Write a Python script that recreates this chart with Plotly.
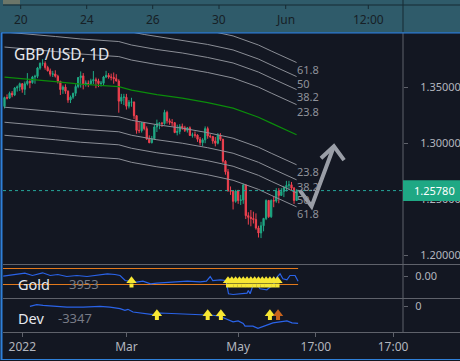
import plotly.graph_objects as go

# ---------------- data ----------------
opens = [1.3328, 1.3407, 1.3402, 1.3446, 1.3430, 1.3492, 1.3502, 1.3530, 1.3480, 1.3530,
         1.3552, 1.3540, 1.3590, 1.3596, 1.3670, 1.3712, 1.3712, 1.3675, 1.3645, 1.3615,
         1.3617, 1.3597, 1.3552, 1.3478, 1.3500, 1.3464, 1.3385, 1.3410, 1.3445, 1.3505,
         1.3585, 1.3600, 1.3528, 1.3535, 1.3532, 1.3556, 1.3566, 1.3556, 1.3532, 1.3535,
         1.3590, 1.3605, 1.3590, 1.3587, 1.3575, 1.3555, 1.3375, 1.3410, 1.3410, 1.3330,
         1.3365, 1.3368, 1.3245, 1.3115, 1.3112, 1.3183, 1.3130, 1.3037, 1.3005, 1.3040,
         1.3145, 1.3175, 1.3180, 1.3175, 1.3275, 1.3200, 1.3185, 1.3183, 1.3095, 1.3105,
         1.3150, 1.3137, 1.3115, 1.3137, 1.3070, 1.3075, 1.3072, 1.3035, 1.3005, 1.3030,
         1.3130, 1.3065, 1.3060, 1.3020, 1.3000, 1.3073, 1.3035, 1.2840, 1.2745, 1.2575,
         1.2572, 1.2482, 1.2575, 1.2490, 1.2495, 1.2628, 1.2355, 1.2340, 1.2330, 1.2320,
         1.2245, 1.2200, 1.2265, 1.2330, 1.2490, 1.2345, 1.2490, 1.2485, 1.2575, 1.2535,
         1.2570, 1.2605, 1.2625, 1.2630, 1.2600, 1.2490]
highs = [1.3415, 1.3435, 1.3460, 1.3465, 1.3500, 1.3515, 1.3540, 1.3535, 1.3550, 1.3625,
         1.3560, 1.3600, 1.3610, 1.3680, 1.3720, 1.3749, 1.3730, 1.3690, 1.3665, 1.3645,
         1.3650, 1.3610, 1.3555, 1.3515, 1.3525, 1.3470, 1.3425, 1.3450, 1.3525, 1.3590,
         1.3640, 1.3625, 1.3560, 1.3560, 1.3575, 1.3643, 1.3585, 1.3575, 1.3555, 1.3600,
         1.3645, 1.3625, 1.3620, 1.3630, 1.3615, 1.3570, 1.3440, 1.3440, 1.3440, 1.3385,
         1.3405, 1.3370, 1.3250, 1.3190, 1.3185, 1.3190, 1.3150, 1.3070, 1.3065, 1.3165,
         1.3210, 1.3185, 1.3190, 1.3298, 1.3290, 1.3220, 1.3215, 1.3188, 1.3165, 1.3170,
         1.3175, 1.3155, 1.3145, 1.3150, 1.3095, 1.3105, 1.3080, 1.3055, 1.3045, 1.3150,
         1.3148, 1.3080, 1.3065, 1.3055, 1.3090, 1.3090, 1.3040, 1.2850, 1.2770, 1.2615,
         1.2580, 1.2585, 1.2585, 1.2540, 1.2640, 1.2635, 1.2385, 1.2405, 1.2390, 1.2375,
         1.2265, 1.2300, 1.2335, 1.2500, 1.2495, 1.2500, 1.2525, 1.2600, 1.2600, 1.2600,
         1.2620, 1.2665, 1.2665, 1.2655, 1.2610, 1.2590]
lows = [1.3310, 1.3390, 1.3395, 1.3410, 1.3420, 1.3460, 1.3465, 1.3450, 1.3430, 1.3515,
        1.3490, 1.3530, 1.3530, 1.3580, 1.3655, 1.3690, 1.3655, 1.3640, 1.3595, 1.3590,
        1.3585, 1.3532, 1.3430, 1.3440, 1.3440, 1.3360, 1.3358, 1.3395, 1.3420, 1.3490,
        1.3495, 1.3480, 1.3505, 1.3500, 1.3520, 1.3528, 1.3490, 1.3500, 1.3505, 1.3510,
        1.3580, 1.3575, 1.3560, 1.3530, 1.3550, 1.3272, 1.3350, 1.3340, 1.3300, 1.3310,
        1.3325, 1.3215, 1.3085, 1.3090, 1.3095, 1.3115, 1.3030, 1.3000, 1.2998, 1.3030,
        1.3100, 1.3125, 1.3145, 1.3165, 1.3175, 1.3165, 1.3150, 1.3090, 1.3070, 1.3080,
        1.3120, 1.3100, 1.3095, 1.3065, 1.3050, 1.3050, 1.3012, 1.2980, 1.2975, 1.3000,
        1.3040, 1.3045, 1.2995, 1.2972, 1.2990, 1.3020, 1.2825, 1.2720, 1.2570, 1.2540,
        1.2410, 1.2470, 1.2460, 1.2450, 1.2460, 1.2325, 1.2275, 1.2260, 1.2285, 1.2230,
        1.2160, 1.2155, 1.2215, 1.2315, 1.2335, 1.2335, 1.2430, 1.2470, 1.2465, 1.2530,
        1.2520, 1.2570, 1.2590, 1.2575, 1.2460, 1.2485]
closes = [1.3407, 1.3402, 1.3446, 1.3430, 1.3492, 1.3502, 1.3530, 1.3480, 1.3530, 1.3552,
          1.3540, 1.3590, 1.3596, 1.3670, 1.3712, 1.3712, 1.3675, 1.3645, 1.3615, 1.3617,
          1.3597, 1.3552, 1.3478, 1.3500, 1.3464, 1.3385, 1.3410, 1.3445, 1.3505, 1.3585,
          1.3600, 1.3528, 1.3535, 1.3532, 1.3556, 1.3566, 1.3556, 1.3532, 1.3535, 1.3590,
          1.3605, 1.3590, 1.3587, 1.3575, 1.3555, 1.3375, 1.3410, 1.3410, 1.3330, 1.3365,
          1.3368, 1.3245, 1.3115, 1.3112, 1.3183, 1.3130, 1.3037, 1.3005, 1.3040, 1.3145,
          1.3175, 1.3180, 1.3175, 1.3275, 1.3200, 1.3185, 1.3183, 1.3095, 1.3105, 1.3150,
          1.3137, 1.3115, 1.3137, 1.3070, 1.3075, 1.3072, 1.3035, 1.3005, 1.3030, 1.3130,
          1.3065, 1.3060, 1.3020, 1.3000, 1.3073, 1.3035, 1.2840, 1.2745, 1.2575, 1.2572,
          1.2482, 1.2575, 1.2490, 1.2495, 1.2628, 1.2355, 1.2340, 1.2330, 1.2320, 1.2245,
          1.2200, 1.2265, 1.2330, 1.2490, 1.2345, 1.2490, 1.2485, 1.2575, 1.2535, 1.2570,
          1.2605, 1.2625, 1.2630, 1.2600, 1.2490, 1.2578]
bars = list(range(len(closes)))

# 200-period moving average (green), read at sparse bars
ma_bars = [0, 10, 20, 30, 40, 45, 50, 55, 60, 70, 80, 90, 100, 105, 110, 115]
ma_vals = [1.3589, 1.3571, 1.3549, 1.3527, 1.3513, 1.3504, 1.3473, 1.3451, 1.3433,
           1.3402, 1.3362, 1.3313, 1.3232, 1.3179, 1.3125, 1.3076]

fib_labels = ["23.8", "38.2", "50", "61.8"]
fib_offsets = [0.0268, 0.0402, 0.0518, 0.0643]

# Gold indicator pane
gold_x = [-0.5, 6, 8, 11, 15, 18, 21, 24.5, 28.5, 32.5, 36.5, 40.5, 43.5, 45.5, 47.5, 49.5,
          52, 54.5, 57.5, 60, 64, 68, 72, 77, 79.5, 81, 82, 85, 87, 87.6, 88.2, 90, 92.5,
          95.5, 96, 96.7, 97.8, 99.4, 100.6, 103.3, 104.5, 105.7, 107.3, 108.5, 109.6,
          111.2, 112.4, 114.4, 115.6]
gold_y = [0.03, 0.27, 0.33, 0.10, 0.37, 0.10, 0.20, 0.0, 0.10, 0.0, 0.17, 0.27, 0.20, 0.10,
          -0.40, -0.50, -0.57, -0.47, -0.73, -0.67, -0.60, -0.57, -0.47, -0.53, -0.47, 0.0,
          -0.40, -0.33, -0.40, -0.90, -1.73, -1.80, -1.73, -1.67, -1.40, -1.73, -0.90, -0.80,
          -1.23, -1.33, -1.07, -0.90, -0.07, 0.27, -0.23, -0.33, 0.10, 0.10, -0.47]
gold_levels = [0.8, -0.8]
gold_arrow_x = [50, 88, 89.5, 91, 92.5, 94, 95.5, 97, 98.5, 100, 101.5, 103, 104.5, 106, 107.5]
gold_arrow_head = -0.42
gold_arrow_stem = -0.9

# Dev indicator pane
dev_x = [10, 12.7, 15.2, 19, 24.6, 31, 37.6, 41.5, 45.5, 47.4, 48.6, 50.6, 54.5, 58.5, 61.2,
         66.3, 72, 77, 82, 84.8, 87.6, 90, 92, 94, 94.7, 97.8, 99.8, 101.8, 103.3, 105.7,
         108.5, 111.2, 113.2, 115.6]
dev_y = [0, 335, 197, 59, -138, -138, 0, -138, -453, -788, -591, -1123, -1438, -1635, -1320,
         -1438, -1576, -1635, -1773, -1970, -2620, -3093, -2896, -3408, -3940, -3940, -4393,
         -3940, -3743, -3290, -3093, -2896, -3290, -3408]
dev_arrow_x = [60, 80, 85.2, 104.5, 107.7]
dev_arrow_col = ["#f7e733", "#f7e733", "#f7e733", "#f7e733", "#c8631d"]
dev_arrow_head = -1480
dev_arrow_stem = -2330

# hand drawn arrow (bar index, price)
draw_x = [116.3, 120.9, 129.7]
draw_y = [1.2580, 1.2437, 1.2973]
head_x = [124.6, 129.7, 133.7]
head_y = [1.2866, 1.2973, 1.2850]

price_ticks = [1.20, 1.25, 1.30, 1.35]
time_tick_bars = [7, 48, 92, 122.6, 153]
time_tick_text = ["2022", "Mar", "May", "17:00", "17:00"]
top_tick_text = ["20", "24", "26", "30", "Jun", "12:00"]
top_tick_px = [20.7, 86.7, 152.7, 219, 285.7, 368.3]

title_text = "GBP/USD, 1D"

# ---------------- styling ----------------
BG = "#131722"
UP = "#1fa884"
DN = "#f0414f"
FONT = "Noto Sans"
AXC = "#b2b5be"
SEP = "#5f626b"


def pxx(px):
    return (px - 3) / 400.0


def pxy(py):
    return (332 - py) / 299.0


fig = go.Figure()

# fib bands around the moving average
for lab, off in zip(fib_labels, fib_offsets):
    for sgn in (1, -1):
        fig.add_trace(go.Scatter(x=ma_bars, y=[v + sgn * off for v in ma_vals], mode="lines",
                                 line=dict(color="#8b8e96", width=1), hoverinfo="skip",
                                 showlegend=False, xaxis="x", yaxis="y"))
fig.add_trace(go.Scatter(x=ma_bars, y=ma_vals, mode="lines",
                         line=dict(color="#0b8c0b", width=1.2), hoverinfo="skip",
                         showlegend=False, xaxis="x", yaxis="y"))

fig.add_trace(go.Candlestick(x=bars, open=opens, high=highs, low=lows, close=closes,
                             increasing=dict(line=dict(color=UP, width=1), fillcolor=UP),
                             decreasing=dict(line=dict(color=DN, width=1), fillcolor=DN),
                             whiskerwidth=0, showlegend=False, xaxis="x", yaxis="y"))

# Gold pane
for lv in gold_levels:
    fig.add_trace(go.Scatter(x=[-0.6, 115.6], y=[lv, lv], mode="lines",
                             line=dict(color="#e2791c", width=1.2), hoverinfo="skip",
                             showlegend=False, xaxis="x", yaxis="y2"))
fig.add_trace(go.Scatter(x=gold_x, y=gold_y, mode="lines", line=dict(color="#2a63e8", width=1.2),
                         hoverinfo="skip", showlegend=False, xaxis="x", yaxis="y2"))
fig.add_trace(go.Scatter(x=gold_arrow_x, y=[gold_arrow_stem] * len(gold_arrow_x), mode="markers",
                         marker=dict(symbol="square", size=4, color="#f7e733", line=dict(width=0)),
                         hoverinfo="skip", showlegend=False, xaxis="x", yaxis="y2"))
fig.add_trace(go.Scatter(x=gold_arrow_x, y=[gold_arrow_head] * len(gold_arrow_x), mode="markers",
                         marker=dict(symbol="triangle-up", size=9, color="#f7e733", line=dict(width=0)),
                         hoverinfo="skip", showlegend=False, xaxis="x", yaxis="y2"))

# Dev pane
fig.add_trace(go.Scatter(x=dev_x, y=dev_y, mode="lines", line=dict(color="#2a63e8", width=1.2),
                         hoverinfo="skip", showlegend=False, xaxis="x", yaxis="y3"))
fig.add_trace(go.Scatter(x=dev_arrow_x, y=[dev_arrow_stem] * len(dev_arrow_x), mode="markers",
                         marker=dict(symbol="square", size=4, color=dev_arrow_col, line=dict(width=0)),
                         hoverinfo="skip", showlegend=False, xaxis="x", yaxis="y3"))
fig.add_trace(go.Scatter(x=dev_arrow_x, y=[dev_arrow_head] * len(dev_arrow_x), mode="markers",
                         marker=dict(symbol="triangle-up", size=9, color=dev_arrow_col, line=dict(width=0)),
                         hoverinfo="skip", showlegend=False, xaxis="x", yaxis="y3"))

shapes = []
# top band (another chart's time axis)
shapes.append(dict(type="rect", xref="paper", yref="paper", x0=pxx(0), x1=pxx(460),
                   y0=pxy(32.5), y1=pxy(0), fillcolor="#2f5b6a", line=dict(width=0), layer="above"))
shapes.append(dict(type="rect", xref="paper", yref="paper", x0=pxx(3), x1=pxx(20),
                   y0=pxy(4.5), y1=pxy(0), fillcolor="#6c7669", line=dict(width=0), layer="above"))
shapes.append(dict(type="line", xref="paper", yref="paper", x0=pxx(3), x1=pxx(460),
                   y0=pxy(5), y1=pxy(5), line=dict(color="#172a33", width=1), layer="above"))
shapes.append(dict(type="line", xref="paper", yref="paper", x0=pxx(403), x1=pxx(403),
                   y0=pxy(32.5), y1=pxy(0), line=dict(color="#172a33", width=1), layer="above"))
for tp in top_tick_px:
    shapes.append(dict(type="line", xref="paper", yref="paper", x0=pxx(tp), x1=pxx(tp),
                       y0=pxy(5), y1=pxy(9), line=dict(color="#172a33", width=1), layer="above"))
# pane separators and price axis line
for sy in (264.5, 298.5, 332.5):
    shapes.append(dict(type="line", xref="paper", yref="paper", x0=pxx(3), x1=pxx(460),
                       y0=pxy(sy), y1=pxy(sy), line=dict(color=SEP, width=1), layer="above"))
shapes.append(dict(type="line", xref="paper", yref="paper", x0=1, x1=1,
                   y0=pxy(332.5), y1=pxy(32.5), line=dict(color=SEP, width=1), layer="above"))
# blue selection frame
shapes.append(dict(type="line", xref="paper", yref="paper", x0=pxx(1.5), x1=pxx(1.5),
                   y0=pxy(360), y1=pxy(32.5), line=dict(color="#2f80d9", width=2), layer="above"))
shapes.append(dict(type="line", xref="paper", yref="paper", x0=pxx(1.5), x1=pxx(460),
                   y0=pxy(32.8), y1=pxy(32.8), line=dict(color="#2f80d9", width=1.2), layer="above"))
shapes.append(dict(type="line", xref="paper", yref="paper", x0=pxx(1.5), x1=pxx(460),
                   y0=pxy(359.5), y1=pxy(359.5), line=dict(color="#2f80d9", width=1.2), layer="above"))
# last price line + label box
last = closes[-1]
shapes.append(dict(type="line", xref="paper", yref="y", x0=0, x1=1, y0=last, y1=last,
                   line=dict(color="#26a69a", width=1, dash="dot"), layer="above"))
shapes.append(dict(type="rect", xref="paper", yref="y", x0=1, x1=pxx(460),
                   y0=last - 0.0092, y1=last + 0.0092, fillcolor=UP, line=dict(width=0), layer="above"))
# hand-drawn arrow
shapes.append(dict(type="path", xref="x", yref="y",
                   path="M %g,%g L %g,%g L %g,%g" % (draw_x[0], draw_y[0], draw_x[1], draw_y[1],
                                                      draw_x[2], draw_y[2]),
                   line=dict(color="#9a9ea7", width=4), layer="above"))
shapes.append(dict(type="path", xref="x", yref="y",
                   path="M %g,%g L %g,%g L %g,%g" % (head_x[0], head_y[0], head_x[1], head_y[1],
                                                      head_x[2], head_y[2]),
                   line=dict(color="#9a9ea7", width=4), layer="above"))

ann = []
ann.append(dict(text=title_text, xref="paper", yref="paper", x=pxx(12), y=pxy(54),
                xanchor="left", yanchor="middle", showarrow=False,
                font=dict(family=FONT, size=15.5, color="#e6e8ee")))
for lab, off in zip(fib_labels, fib_offsets):
    for sgn in (1, -1):
        ann.append(dict(text=lab, xref="x", yref="y", x=114.2, y=ma_vals[-1] + sgn * off,
                        xanchor="left", yanchor="middle", yshift=-7, showarrow=False,
                        font=dict(family=FONT, size=11, color="#8f929a")))
ann.append(dict(text="%.5f" % last, xref="paper", yref="y", x=pxx(412), y=last,
                xanchor="left", yanchor="middle", showarrow=False,
                font=dict(family=FONT, size=11, color="#ffffff")))
for lab, tp in zip(top_tick_text, top_tick_px):
    ann.append(dict(text=lab, xref="paper", yref="paper", x=pxx(tp), y=pxy(19),
                    xanchor="center", yanchor="middle", showarrow=False,
                    font=dict(family=FONT, size=12, color="#172026")))
ann.append(dict(text="Gold", xref="paper", yref="paper", x=pxx(16), y=pxy(284),
                xanchor="left", yanchor="middle", showarrow=False,
                font=dict(family=FONT, size=14.5, color="#e6e8ee")))
ann.append(dict(text="3953", xref="paper", yref="paper", x=pxx(67), y=pxy(284),
                xanchor="left", yanchor="middle", showarrow=False,
                font=dict(family=FONT, size=13, color="#787b86")))
ann.append(dict(text="Dev", xref="paper", yref="paper", x=pxx(16), y=pxy(318),
                xanchor="left", yanchor="middle", showarrow=False,
                font=dict(family=FONT, size=14.5, color="#e6e8ee")))
ann.append(dict(text="-3347", xref="paper", yref="paper", x=pxx(56), y=pxy(318),
                xanchor="left", yanchor="middle", showarrow=False,
                font=dict(family=FONT, size=13, color="#787b86")))

fig.update_layout(
    width=460, height=361,
    margin=dict(l=3, r=57, t=33, b=29, autoexpand=False),
    paper_bgcolor=BG, plot_bgcolor=BG,
    font=dict(family=FONT, size=11, color=AXC),
    showlegend=False,
    shapes=shapes, annotations=ann,
    xaxis=dict(domain=[0, 1], anchor="y3", range=[-0.59, 156.9], showgrid=False,
               zeroline=False, showline=False, rangeslider=dict(visible=False),
               tickvals=time_tick_bars, ticktext=time_tick_text, ticks="outside",
               ticklen=4, tickcolor=SEP, tickfont=dict(family=FONT, size=12, color=AXC)),
    yaxis=dict(domain=[pxy(264.5), 1], anchor="x", side="right", range=[1.19196, 1.39821],
               showgrid=False, zeroline=False, showline=False, tickvals=price_ticks,
               tickformat=".5f", ticks="outside", ticklen=4, tickcolor=SEP,
               ticklabelstandoff=10, tickfont=dict(family=FONT, size=11, color=AXC)),
    yaxis2=dict(domain=[pxy(298.5), pxy(264.5)], anchor="x", side="right", range=[-2.2, 1.2],
                showgrid=False, zeroline=False, showline=False, tickvals=[0], ticktext=["0.00"],
                ticks="outside", ticklen=4, tickcolor=SEP, ticklabelstandoff=5,
                tickfont=dict(family=FONT, size=11, color=AXC)),
    yaxis3=dict(domain=[0, pxy(298.5)], anchor="x", side="right", range=[-5122, 1576],
                showgrid=False, zeroline=False, showline=False, tickvals=[0], ticktext=["0"],
                ticks="outside", ticklen=4, tickcolor=SEP, ticklabelstandoff=5,
                tickfont=dict(family=FONT, size=11, color=AXC)),
)

fig.write_html("out.html", config={"responsive": False, "displayModeBar": False},
               post_script="document.body.style.margin='0px';document.body.style.padding='0px';"
                           "document.body.style.background='#131722';")
